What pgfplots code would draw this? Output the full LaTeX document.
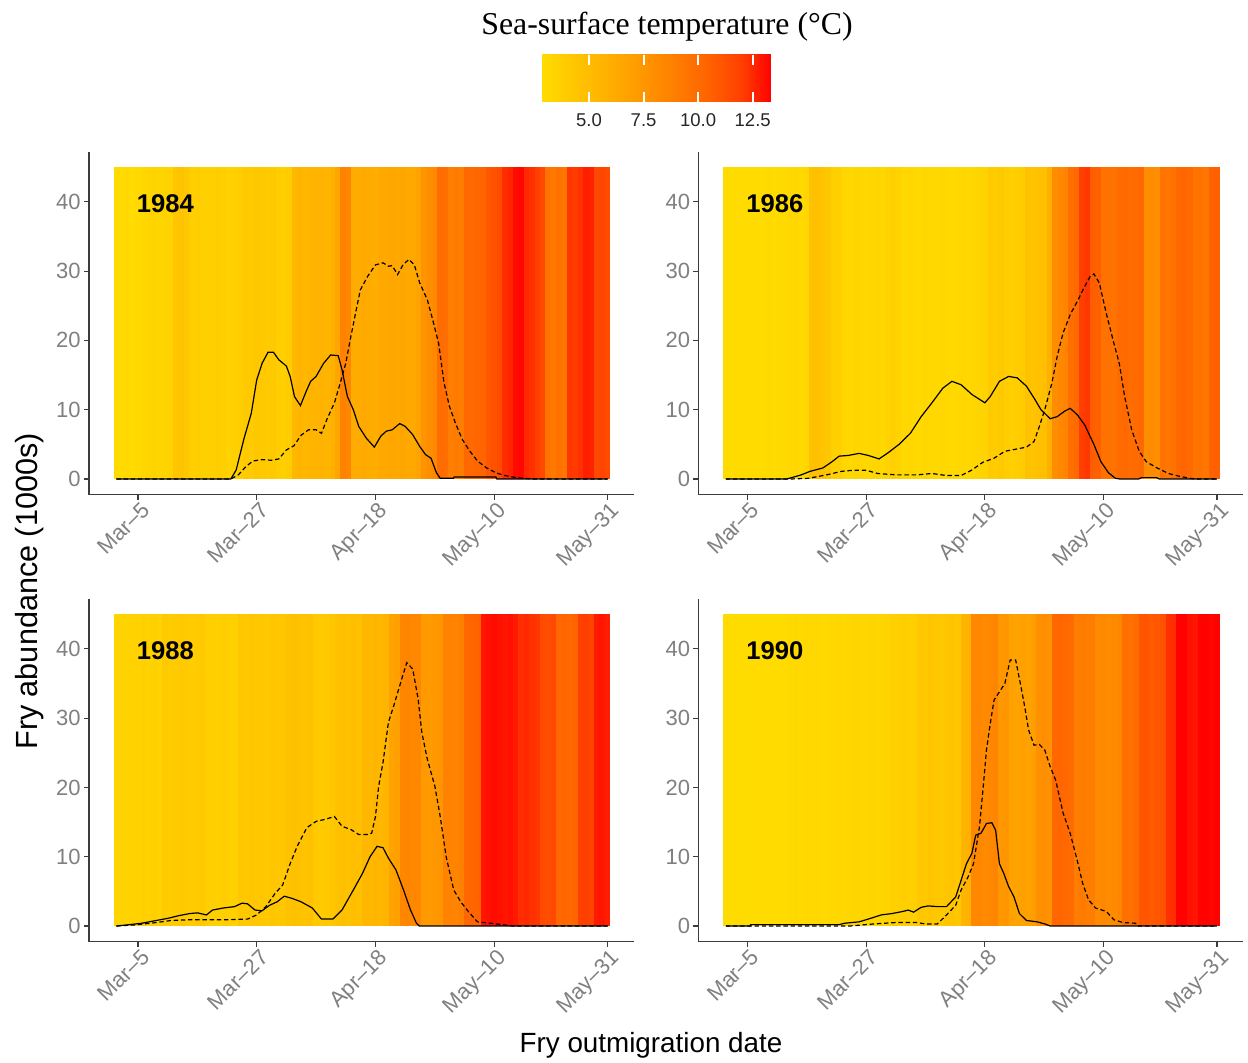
\documentclass[border=0pt]{standalone}
\usepackage{fontspec}
\setmainfont{Liberation Sans}
\newfontfamily\timesfont{Liberation Serif}
\usepackage{pgfplots}
\usepackage{pgfplotstable}
\pgfplotsset{compat=1.18}

\definecolor{tickgray}{RGB}{128,128,128}
\definecolor{axisgray}{RGB}{60,60,60}

\pgfplotsset{colormap={sst}{rgb255=(255,220,0) rgb255=(255,200,0) rgb255=(255,182,0) rgb255=(255,162,0) rgb255=(255,140,0) rgb255=(255,118,0) rgb255=(255,94,0) rgb255=(255,62,0) rgb255=(255,0,0)}}

% one stripe = one day wide, 0..45 high (axis: 272.5pt / 100.97 units, 171.5pt / 49.5 units)
\pgfdeclareplotmark{sststripe}{\pgfpathrectangle{\pgfqpoint{-1.38pt}{0pt}}{\pgfqpoint{2.76pt}{155.91pt}}\pgfusepathqfill}

\tikzset{yearlab/.style={anchor=base west, font=\bfseries\fontsize{12.8}{14}\selectfont, text=black}}

\pgfplotsset{
 panelbase/.style={
  scale only axis, width=272.5pt, height=171.5pt,
  xmin=-4.07, xmax=96.9, ymin=-2.25, ymax=47.25,
  colormap name=sst, point meta min=2.83, point meta max=13.34,
 },
 panel/.style={
  panelbase,
  axis lines*=left,
  axis line style={draw=axisgray, line width=0.7pt},
  xtick={5,27,49,71,92}, xticklabels={Mar--5,Mar--27,Apr--18,May--10,May--31},
  ytick={0,10,20,30,40},
  tick align=outside, major tick length=2.5pt,
  every tick/.style={draw=axisgray, line width=0.6pt},
  tick label style={font=\fontsize{11}{12}\selectfont, text=tickgray},
  xticklabel style={rotate=45, anchor=north east, inner sep=1pt, xshift=1.5pt},
  yticklabel style={inner sep=1.5pt},
  /pgf/number format/assume math mode=true,
 },
 stripes/.style={scatter, only marks, mark=sststripe, point meta=explicit},
 solidline/.style={black, line width=0.6pt, mark=none},
 dashline/.style={black, line width=0.6pt, mark=none, dash pattern=on 2.2pt off 1.4pt},
}

\pgfplotstableread[row sep=\\]{day T\\
1 2.9\\2 2.9\\3 3.0\\4 2.9\\5 3.0\\6 3.2\\7 3.3\\8 3.4\\9 3.3\\10 3.4\\11 3.4\\12 4.3\\13 4.4\\14 4.2\\15 3.7\\16 3.8\\17 3.6\\18 3.7\\19 3.6\\20 3.8\\
21 3.7\\22 3.5\\23 3.6\\24 3.8\\25 4.1\\26 4.0\\27 4.2\\28 4.1\\29 4.0\\30 4.1\\31 3.8\\32 3.7\\33 3.9\\34 5.3\\35 5.5\\36 5.4\\37 5.6\\38 5.5\\39 5.7\\40 5.5\\
41 5.8\\42 6.6\\43 8.6\\44 8.4\\45 6.2\\46 6.1\\47 6.3\\48 6.2\\49 6.0\\50 6.4\\51 6.3\\52 6.5\\53 6.4\\54 6.6\\55 6.4\\56 6.3\\57 6.7\\58 7.6\\59 8.0\\60 8.2\\
61 9.9\\62 9.8\\63 9.0\\64 9.1\\65 8.9\\66 10.2\\67 10.1\\68 10.3\\69 10.4\\70 11.0\\71 11.2\\72 11.4\\73 12.4\\74 12.6\\75 13.1\\76 13.2\\77 12.5\\78 12.3\\79 11.9\\80 11.6\\
81 9.5\\82 9.3\\83 9.6\\84 9.4\\85 12.2\\86 12.1\\87 12.3\\88 12.7\\89 12.6\\90 11.6\\91 11.7\\92 11.5\\}\tempA

\pgfplotstableread[row sep=\\]{day T\\
1 2.85\\2 2.85\\3 2.9\\4 2.85\\5 2.9\\6 2.9\\7 2.85\\8 2.9\\9 2.95\\10 2.9\\11 2.95\\12 3.0\\13 3.1\\14 3.2\\15 3.0\\16 3.2\\17 4.6\\18 4.7\\19 4.5\\20 4.2\\
21 3.6\\22 3.7\\23 3.2\\24 3.1\\25 3.3\\26 3.2\\27 3.1\\28 3.2\\29 3.3\\30 3.1\\31 3.5\\32 3.6\\33 3.5\\34 3.1\\35 3.2\\36 3.1\\37 3.0\\38 3.2\\39 3.1\\40 3.1\\
41 3.2\\42 3.1\\43 3.0\\44 3.1\\45 3.2\\46 3.1\\47 3.2\\48 3.3\\49 3.4\\50 4.0\\51 3.9\\52 4.1\\53 3.8\\54 3.7\\55 3.8\\56 3.9\\57 4.6\\58 4.5\\59 4.7\\60 4.8\\
61 5.8\\62 8.0\\63 8.3\\64 8.5\\65 9.8\\66 10.0\\67 12.0\\68 12.2\\69 10.7\\70 10.6\\71 9.6\\72 9.7\\73 9.5\\74 10.0\\75 10.1\\76 9.9\\77 10.0\\78 10.2\\79 8.0\\80 8.1\\
81 7.9\\82 9.5\\83 9.4\\84 9.6\\85 10.2\\86 10.3\\87 10.1\\88 9.5\\89 9.6\\90 9.4\\91 10.5\\92 10.6\\}\tempB

\pgfplotstableread[row sep=\\]{day T\\
1 3.3\\2 3.4\\3 3.4\\4 3.5\\5 3.5\\6 3.6\\7 3.5\\8 3.6\\9 3.5\\10 4.0\\11 3.9\\12 4.0\\13 4.1\\14 4.0\\15 3.9\\16 4.0\\17 4.1\\18 3.7\\19 3.6\\20 3.7\\
21 3.8\\22 3.7\\23 3.6\\24 4.2\\25 4.1\\26 4.3\\27 4.2\\28 4.2\\29 4.1\\30 4.3\\31 4.2\\32 4.2\\33 4.6\\34 4.7\\35 4.6\\36 4.5\\37 4.7\\38 4.1\\39 4.0\\40 4.1\\
41 4.2\\42 4.6\\43 4.7\\44 4.6\\45 4.8\\46 4.7\\47 5.4\\48 5.3\\49 5.5\\50 5.4\\51 5.6\\52 6.7\\53 6.9\\54 8.4\\55 8.5\\56 8.3\\57 8.4\\58 7.3\\59 7.2\\60 7.4\\
61 7.5\\62 8.6\\63 8.7\\64 8.5\\65 8.8\\66 10.2\\67 10.3\\68 10.4\\69 12.9\\70 13.0\\71 13.1\\72 13.0\\73 12.9\\74 13.0\\75 12.8\\76 12.4\\77 12.5\\78 12.3\\79 12.2\\80 11.5\\
81 11.4\\82 11.6\\83 10.2\\84 10.3\\85 10.1\\86 10.4\\87 11.9\\88 12.0\\89 11.8\\90 12.8\\91 12.9\\92 12.7\\}\tempC

\pgfplotstableread[row sep=\\]{day T\\
1 2.85\\2 2.85\\3 2.85\\4 2.9\\5 2.85\\6 2.85\\7 2.9\\8 2.85\\9 2.9\\10 2.85\\11 2.9\\12 2.9\\13 2.95\\14 3.1\\15 3.0\\16 3.1\\17 3.1\\18 3.2\\19 3.0\\20 3.1\\
21 3.1\\22 3.2\\23 3.1\\24 3.2\\25 3.3\\26 3.2\\27 3.2\\28 3.3\\29 3.2\\30 3.3\\31 3.4\\32 3.7\\33 3.6\\34 3.8\\35 3.7\\36 3.6\\37 4.2\\38 4.1\\39 4.3\\40 4.2\\
41 4.1\\42 4.3\\43 4.4\\44 4.2\\45 5.6\\46 5.7\\47 8.3\\48 8.4\\49 8.2\\50 8.3\\51 8.5\\52 7.4\\53 7.5\\54 6.8\\55 6.7\\56 6.9\\57 6.8\\58 7.0\\59 7.8\\60 7.9\\
61 7.7\\62 10.2\\63 10.3\\64 10.1\\65 10.0\\66 9.0\\67 9.1\\68 8.9\\69 9.0\\70 8.2\\71 8.3\\72 8.1\\73 8.2\\74 8.4\\75 9.8\\76 9.7\\77 9.9\\78 11.0\\79 11.1\\80 10.9\\
81 11.0\\82 11.2\\83 12.3\\84 12.4\\85 13.3\\86 13.3\\87 13.0\\88 12.9\\89 13.3\\90 13.3\\91 13.2\\92 13.3\\}\tempD

\begin{document}
\begin{tikzpicture}
\useasboundingbox (0,0) rectangle (624pt,531pt);

% ---------------- heat stripes (drawn first, underneath) ----------------
\begin{axis}[panelbase, hide axis, at={(44.5pt,283.7pt)}, anchor=south west]
\addplot[stripes] table[x=day, y expr=0, meta=T] {\tempA};
\end{axis}
\begin{axis}[panelbase, hide axis, at={(349.2pt,283.7pt)}, anchor=south west]
\addplot[stripes] table[x=day, y expr=0, meta=T] {\tempB};
\end{axis}
\begin{axis}[panelbase, hide axis, at={(44.5pt,60.2pt)}, anchor=south west]
\addplot[stripes] table[x=day, y expr=0, meta=T] {\tempC};
\end{axis}
\begin{axis}[panelbase, hide axis, at={(349.2pt,60.2pt)}, anchor=south west]
\addplot[stripes] table[x=day, y expr=0, meta=T] {\tempD};
\end{axis}

% ---------------- 1984 ----------------
\begin{axis}[panel, name=p1, at={(44.5pt,283.7pt)}, anchor=south west,
  colorbar horizontal,
  colorbar/width=23.5pt,
  colorbar style={
    at={(parent axis.north west)}, anchor=north west,
    xshift=226.35pt, yshift=57pt,
    scale only axis, width=114.65pt,
    xtick={5,7.5,10,12.5},
    xtick pos=both, xticklabel pos=lower,
    tick align=inside, major tick length=5pt,
    every tick/.style={draw=white, line width=1pt},
    axis line style={draw=none},
    xticklabel style={font=\fontsize{9.25}{10}\selectfont, text=black!85, rotate=0, anchor=north, yshift=-2.5pt, /pgf/number format/.cd, fixed, fixed zerofill, precision=1},
    /pgf/number format/assume math mode=true,
  }]
\addplot[solidline] coordinates {(1,0)(22.2,0)(23.2,1.3)(24.6,5.7)(26,9.5)(27,14.3)(28,16.7)(29.1,18.3)(30.1,18.3)(31.1,17.2)(32.5,16.3)(33.2,14.8)(34,11.9)(35.1,10.6)(36.3,12.9)(37,14.1)(38,14.8)(39.4,16.7)(40.7,17.9)(42.1,17.8)(42.8,15.8)(43.8,11.9)(44.9,10.0)(45.9,7.6)(47.3,5.9)(48.8,4.6)(50,6.2)(51,6.9)(52.1,7.1)(53.5,8.0)(54.5,7.6)(55.9,6.4)(57.2,4.7)(58.3,3.5)(59.3,3.0)(60.3,0.9)(61,0.1)(63.4,0.1)(63.6,0.3)(71.3,0.3)(71.5,0)(92,0)};
\addplot[dashline] coordinates {(1,0)(22.2,0)(23.6,0.6)(25,1.8)(26.3,2.6)(28,2.8)(29.7,2.7)(31.1,2.9)(32.5,4.2)(33.9,4.8)(35.2,6.3)(36.6,7.1)(38,7.1)(39,6.6)(40,8.6)(41.4,11)(42.5,13.9)(43.5,16.7)(44.2,19.6)(45.2,23.5)(46.2,27.3)(47.6,29.3)(49,30.9)(50.4,31.2)(51.4,30.7)(52.1,30.8)(53.1,29.5)(54.1,30.9)(55.2,31.7)(56.2,30.9)(57.2,28.3)(58.6,25.9)(59.6,23)(60.7,19.6)(61.7,13.9)(62.7,10.5)(63.8,8.1)(65.1,5.7)(66.5,4.0)(67.9,2.6)(69.6,1.6)(71.3,0.9)(73,0.5)(75.1,0.2)(76.5,0.1)(78,0)(92,0)};
\node[yearlab] at (axis cs:3.5,38.4) {1984};
\end{axis}

% ---------------- 1986 ----------------
\begin{axis}[panel, name=p2, at={(349.2pt,283.7pt)}, anchor=south west]
\addplot[solidline] coordinates {(1,0)(12.3,0)(15,0.6)(16.6,1.1)(19,1.6)(20.7,2.5)(22,3.3)(23.7,3.4)(25.7,3.7)(27.4,3.4)(29.4,2.9)(31.1,3.8)(33.1,5.0)(35.2,6.6)(37.2,9.0)(39.2,11)(41.2,13.1)(42.9,14.1)(44.6,13.6)(46.6,12.2)(49,11)(50,11.9)(51.7,14.1)(53.4,14.8)(55,14.6)(56.7,13.4)(58.1,11.7)(59.4,10)(61.1,8.7)(62.4,9.0)(63.8,9.8)(64.8,10.2)(66.1,9.3)(67.5,7.8)(69.2,5.0)(70.5,2.5)(71.9,0.9)(73.2,0.1)(74,0)(77.5,0)(78,0.2)(80.8,0.2)(81.3,0)(92,0)};
\addplot[dashline] coordinates {(1,0)(13,0)(16.3,0.1)(19.7,0.6)(22.4,1.1)(24.4,1.25)(27.1,1.25)(29.1,0.8)(32.5,0.6)(36.5,0.6)(39.2,0.8)(41.9,0.5)(44.6,0.5)(46.6,1.3)(48.6,2.4)(50.7,3.0)(52.7,4.0)(54.7,4.3)(56.7,4.6)(58.1,5.4)(59.1,7.6)(60.1,10)(61.4,13.8)(62.4,17.7)(63.5,21.1)(64.8,23.7)(66.1,25.6)(67.5,27.8)(68.5,29.2)(69.2,29.6)(70.2,28.3)(71.5,23.9)(72.9,19.6)(73.9,16.7)(74.9,11.9)(76.2,7.1)(77.6,4.0)(78.9,2.5)(80.9,1.6)(83,0.8)(85,0.4)(87,0.1)(88,0)(92,0)};
\node[yearlab] at (axis cs:3.5,38.4) {1986};
\end{axis}

% ---------------- 1988 ----------------
\begin{axis}[panel, name=p3, at={(44.5pt,60.2pt)}, anchor=south west]
\addplot[solidline] coordinates {(1,0)(2.9,0.15)(5.7,0.4)(8.4,0.8)(10.5,1.1)(12.6,1.5)(14.6,1.8)(16,1.9)(17.7,1.6)(18.8,2.3)(20.8,2.6)(22.9,2.8)(24.3,3.3)(25.3,3.2)(26.7,2.3)(28,2.2)(29.4,3.0)(30.8,3.5)(32.1,4.3)(33.5,4.0)(35.2,3.5)(37.3,2.6)(39,1.0)(41.1,1.0)(42.8,2.3)(44.9,5.2)(46.6,7.6)(48,10)(49.3,11.5)(50.4,11.3)(51.4,9.8)(52.8,8.1)(54.2,5.2)(55.5,2.3)(56.6,0.4)(57.1,0)(92,0)};
\addplot[dashline] coordinates {(1,0)(4.3,0.15)(8.4,0.5)(11.2,0.8)(14.6,0.9)(18.1,0.9)(21.5,0.9)(25.3,1.0)(27,1.6)(28.7,2.8)(30.4,4.7)(31.8,5.9)(33.2,9.0)(34.5,11.5)(36.3,14.2)(38,15.1)(39.7,15.4)(41.4,15.8)(42.8,14.4)(44.5,13.9)(45.9,13.2)(47.6,13.2)(48.3,13.4)(49,15.8)(49.6,20.2)(50.4,23.6)(51.4,29.4)(52.4,31.8)(53.5,34.7)(54.8,38)(55.9,37.1)(56.9,32.8)(57.6,27.9)(58.6,24.1)(60,20.2)(61,15.8)(62.1,10)(63.5,5.2)(64.8,3.5)(66.2,2.1)(67.9,0.6)(70.3,0.4)(73,0.15)(74.4,0)(92,0)};
\node[yearlab] at (axis cs:3.5,38.4) {1988};
\end{axis}

% ---------------- 1990 ----------------
\begin{axis}[panel, name=p4, at={(349.2pt,60.2pt)}, anchor=south west]
\addplot[solidline] coordinates {(1,0)(5.5,0)(5.6,0.2)(22,0.2)(23,0.4)(25.7,0.6)(27.8,1.1)(29.8,1.6)(31.8,1.8)(33.8,2.1)(34.8,2.3)(35.8,2.0)(37.2,2.7)(38.5,2.9)(40.2,2.8)(41.9,2.8)(43.6,4.2)(44.6,6.6)(45.6,9)(46.6,10.5)(47.3,13.1)(48.3,13.4)(49.3,14.8)(50.3,14.9)(51,13.8)(51.7,9.0)(52.5,7.6)(53.4,5.7)(54.4,4.2)(55.4,1.8)(56.7,0.8)(58.7,0.6)(60.1,0.3)(61.1,0)(92,0)};
\addplot[dashline] coordinates {(1,0)(24,0)(28.4,0.3)(32.5,0.5)(36.5,0.5)(37.9,0.3)(40.2,0.3)(41.9,1.6)(43.6,3.0)(44.6,5.2)(45.9,7.1)(46.9,9.0)(48,14.3)(48.7,20.1)(49.3,25.4)(50,29.2)(50.7,32.6)(51.7,33.8)(52.7,35)(53.7,38.4)(54.7,38.4)(55.7,34.5)(56.4,31.6)(57.1,28.3)(58.1,26.1)(59.1,26.2)(60.1,25.4)(61.1,23)(62.1,21.1)(63.5,16.3)(64.8,13.4)(66.1,9.5)(67.1,6.2)(68.2,3.8)(69.5,2.6)(71.5,2.1)(72.9,0.9)(74.6,0.5)(76.9,0.4)(77.3,0)(92,0)};
\node[yearlab] at (axis cs:3.5,38.4) {1990};
\end{axis}

% titles
\node[anchor=base, font=\timesfont\fontsize{15.9}{18}\selectfont] at (333.5pt,513.5pt) {Sea-surface temperature (°C)};
\node[anchor=base, rotate=90, font=\fontsize{15.3}{17}\selectfont] at (18.5pt,235.25pt) {Fry abundance (1000s)};
\node[anchor=base, font=\fontsize{13.9}{16}\selectfont] at (325.5pt,5pt) {Fry outmigration date};
\end{tikzpicture}
\end{document}
